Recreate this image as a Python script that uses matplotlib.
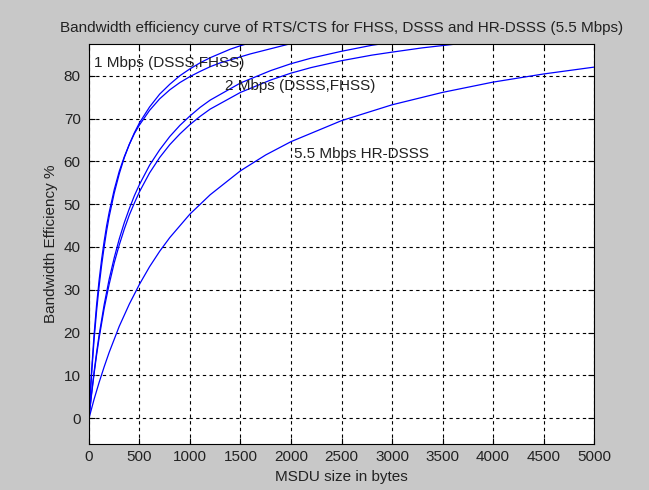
import matplotlib
matplotlib.use("Agg")
import matplotlib.pyplot as plt

# MSDU size (bytes) and bandwidth efficiency (%) for each PHY rate
x_1m_dsss = [0, 10, 25, 50, 75, 100, 125, 150, 175, 200, 250, 300, 350, 400, 450, 500, 600,
             700, 800, 900, 1000, 1100, 1200, 1300, 1400, 1500, 1600]
y_1m_dsss = [0, 4.3, 10.0, 18.2, 25.0, 30.8, 35.7, 40.0, 43.8, 47.1, 52.6, 57.1, 60.9, 64.0, 66.7, 69.0, 72.7,
             75.7, 78.0, 80.0, 81.6, 83.0, 84.2, 85.2, 86.2, 87.0, 87.7]

x_1m_fhss = [0, 10, 25, 50, 75, 100, 125, 150, 175, 200, 250, 300, 350, 400, 450, 500, 600,
             700, 800, 900, 1000, 1100, 1200, 1300, 1400, 1500, 1600, 1700, 1800, 1900, 2000]
y_1m_fhss = [0, 4.6, 10.8, 19.4, 26.4, 32.2, 37.1, 41.3, 45.0, 48.1, 53.4, 57.7, 61.1, 64.0, 66.5, 68.5, 71.9,
             74.6, 76.7, 78.4, 79.8, 81.0, 82.1, 83.0, 83.7, 84.4, 85.1, 85.7, 86.3, 86.9, 87.5]

x_2m_dsss = [0, 10, 25, 50, 75, 100, 150, 200, 250, 300, 350, 400, 450, 500, 600, 700, 800, 900,
             1000, 1100, 1200, 1500, 1800, 2000, 2200, 2500, 2800, 3000]
y_2m_dsss = [0, 2.35, 5.7, 10.7, 15.3, 19.4, 26.5, 32.5, 37.5, 41.9, 45.7, 49.0, 52.0, 54.6, 59.1, 62.7, 65.8, 68.4,
             70.6, 72.6, 74.3, 78.3, 81.2, 82.8, 84.1, 85.7, 87.1, 87.8]

x_2m_fhss = [0, 10, 25, 50, 75, 100, 150, 200, 250, 300, 350, 400, 450, 500, 600, 700, 800, 900,
             1000, 1100, 1200, 1500, 1800, 2000, 2200, 2500, 2800, 3000, 3300, 3600, 3800]
y_2m_fhss = [0, 2.26, 5.45, 10.3, 14.7, 18.7, 25.6, 31.3, 36.3, 40.5, 44.2, 47.5, 50.3, 52.9, 57.3, 60.9, 63.9, 66.4,
             68.6, 70.5, 72.2, 76.1, 79.0, 80.6, 81.9, 83.5, 84.8, 85.5, 86.5, 87.3, 87.8]

x_55m = [0, 25, 50, 100, 150, 200, 300, 400, 500, 600, 700, 800, 1000, 1200, 1500, 1750, 2000,
         2500, 3000, 3500, 4000, 4500, 5000]
y_55m = [0, 2.2, 4.4, 8.35, 12.0, 15.4, 21.5, 26.7, 31.3, 35.4, 39.0, 42.2, 47.7, 52.2, 57.8, 61.5, 64.6,
         69.5, 73.2, 76.1, 78.5, 80.4, 82.0]

xticks = list(range(0, 5001, 500))
yticks = list(range(0, 81, 10))

plt.rcParams["font.family"] = ["Liberation Sans", "DejaVu Sans"]
plt.rcParams["font.size"] = 11

fig = plt.figure(figsize=(6.49, 4.90), dpi=100, facecolor="#c8c8c8")
ax = fig.add_axes([0.1371, 0.0939, 0.7782, 0.8163])
ax.set_facecolor("white")

for xs, ys in [(x_1m_dsss, y_1m_dsss), (x_1m_fhss, y_1m_fhss),
               (x_2m_dsss, y_2m_dsss), (x_2m_fhss, y_2m_fhss),
               (x_55m, y_55m)]:
    ax.plot(xs, ys, color="#0000ff", linewidth=0.9)

ax.text(50, 82.9, "1 Mbps (DSSS,FHSS)", va="center", ha="left", color="#222222")
ax.text(1346, 77.7, "2 Mbps (DSSS,FHSS)", va="center", ha="left", color="#222222")
ax.text(2030, 61.8, "5.5 Mbps HR-DSSS", va="center", ha="left", color="#222222")

ax.set_xlim(0, 5000)
ax.set_ylim(-6, 87.4)
ax.set_xticks(xticks)
ax.set_yticks(yticks)
ax.grid(True, color="black", linestyle=(0, (3, 3)), linewidth=0.8)
ax.tick_params(direction="in", top=True, right=True, length=4, colors="black",
               labelcolor="#222222")
ax.tick_params(axis="x", pad=4)
ax.tick_params(axis="y", pad=6)
for s in ax.spines.values():
    s.set_linewidth(0.8)

ax.set_title("Bandwidth efficiency curve of RTS/CTS for FHSS, DSSS and HR-DSSS (5.5 Mbps)",
             color="#222222", pad=9, fontsize=11,
             family=["Liberation Sans Narrow", "Liberation Sans"])
ax.set_xlabel("MSDU size in bytes", color="#222222", labelpad=5)
ax.set_ylabel("Bandwidth Efficiency %", color="#222222", labelpad=4)

fig.savefig("out.png", dpi=100, facecolor=fig.get_facecolor())
